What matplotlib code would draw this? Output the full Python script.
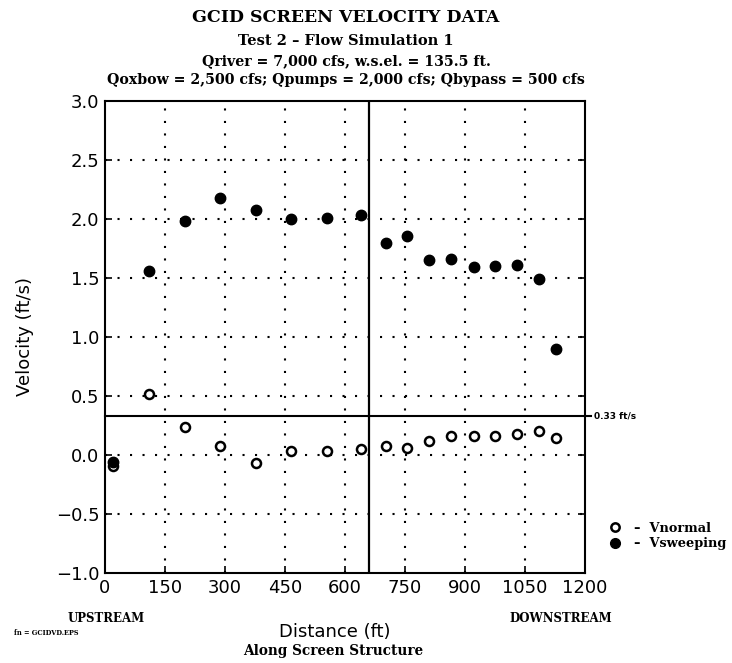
import numpy as np
import matplotlib
matplotlib.use('Agg')
import matplotlib.pyplot as plt
from matplotlib.lines import Line2D

# ── data ─────────────────────────────────────────────────────────────────────
distance_ft = [20, 111, 200, 288, 377, 465, 554, 641, 703, 756,
               811, 864, 923, 976, 1030, 1085, 1128]
v_sweeping = [-0.06, 1.56, 1.98, 2.18, 2.08, 2.00, 2.01, 2.03, 1.80, 1.86,
              1.65, 1.66, 1.59, 1.60, 1.61, 1.49, 0.90]
v_normal = [-0.09, 0.52, 0.24, 0.075, -0.07, 0.03, 0.03, 0.05, 0.08, 0.06,
            0.12, 0.165, 0.165, 0.165, 0.18, 0.205, 0.14]

x_ticks = [0, 150, 300, 450, 600, 750, 900, 1050, 1200]
y_ticks = [-1.0, -0.5, 0.0, 0.5, 1.0, 1.5, 2.0, 2.5, 3.0]
threshold = 0.33
split_ft = 660

title_lines = [
    'GCID SCREEN VELOCITY DATA',
    'Test 2 \u2013 Flow Simulation 1',
    'Qriver = 7,000 cfs, w.s.el. = 135.5 ft.',
    'Qoxbow = 2,500 cfs; Qpumps = 2,000 cfs; Qbypass = 500 cfs',
]

SERIF = 'DejaVu Serif'
SANS = 'DejaVu Sans'

fig = plt.figure(figsize=(7.32, 6.63), dpi=100)
ax = fig.add_axes([105 / 732, 1 - 573 / 663, 480 / 732, 472 / 663])

ax.set_xlim(0, 1200)
ax.set_ylim(-1.0, 3.0)
ax.set_xticks(x_ticks)
ax.set_yticks(y_ticks)
ax.set_xticklabels([str(t) for t in x_ticks], fontsize=13, family=SANS)
ax.set_yticklabels([f'{t:.1f}'.replace('-', '\u2212') for t in y_ticks], fontsize=13, family=SANS)
ax.tick_params(axis='both', direction='in', length=5, width=1.2, pad=4)
ax.tick_params(axis='y', right=True)
for sp in ax.spines.values():
    sp.set_linewidth(1.5)

# dotted grid at the interior ticks
for t in x_ticks[1:-1]:
    ax.axvline(t, color='black', linestyle=(0, (1, 5)), linewidth=1.5, zorder=1)
for t in y_ticks[1:-1]:
    ax.axhline(t, color='black', linestyle=(0, (1, 5)), linewidth=1.5, zorder=1)

# reference lines
ax.plot([0, 1215], [threshold, threshold], color='black', linewidth=1.5,
        clip_on=False, zorder=2)
ax.axvline(split_ft, color='black', linewidth=1.6, zorder=2)
ax.text(1222, threshold, '0.33 ft/s', fontsize=6.5, fontweight='bold',
        family=SANS, va='center', ha='left')

ax.plot(distance_ft, v_normal, linestyle='none', marker='o', markersize=6.5,
        markerfacecolor='white', markeredgecolor='black', markeredgewidth=1.8, zorder=3)
ax.plot(distance_ft, v_sweeping, linestyle='none', marker='o', markersize=7.5,
        color='black', zorder=3)

# titles
title_y = [1 - 18 / 663, 1 - 41 / 663, 1 - 61 / 663, 1 - 80 / 663]
title_sz = [12.5, 10.5, 10.2, 10.2]
for txt, y, s in zip(title_lines, title_y, title_sz):
    fig.text(346 / 732, y, txt, ha='center', va='center', fontsize=s,
             fontweight='bold', family=SERIF)

ax.set_ylabel('Velocity (ft/s)', fontsize=13, family=SANS, labelpad=16)
fig.text(335 / 732, 1 - 632 / 663, 'Distance (ft)', ha='center', va='center',
         fontsize=13, family=SANS)
fig.text(333 / 732, 1 - 651 / 663, 'Along Screen Structure', ha='center', va='center',
         fontsize=9.8, fontweight='bold', family=SERIF)
fig.text(106 / 732, 1 - 619 / 663, 'UPSTREAM', ha='center', va='center',
         fontsize=8.5, fontweight='bold', family=SERIF)
fig.text(561 / 732, 1 - 619 / 663, 'DOWNSTREAM', ha='center', va='center',
         fontsize=8.5, fontweight='bold', family=SERIF)
fig.text(14 / 732, 1 - 633 / 663, 'fn = GCIDVD.EPS', ha='left', va='center',
         fontsize=4.8, fontweight='bold', family=SERIF)

handles = [
    Line2D([], [], linestyle='none', marker='o', markersize=6, markerfacecolor='white',
           markeredgecolor='black', markeredgewidth=1.8),
    Line2D([], [], linestyle='none', marker='o', markersize=7, color='black'),
]
ax.legend(handles, ['\u2013  Vnormal', '\u2013  Vsweeping'], loc='center left',
          bbox_to_anchor=(603 / 732, 1 - 536 / 663), bbox_transform=fig.transFigure,
          frameon=False, handlelength=1.0, handletextpad=1.0, labelspacing=0.2,
          borderaxespad=0, prop={'family': SERIF, 'weight': 'bold', 'size': 9.3})

plt.savefig('out.png', dpi=100)
plt.close()
